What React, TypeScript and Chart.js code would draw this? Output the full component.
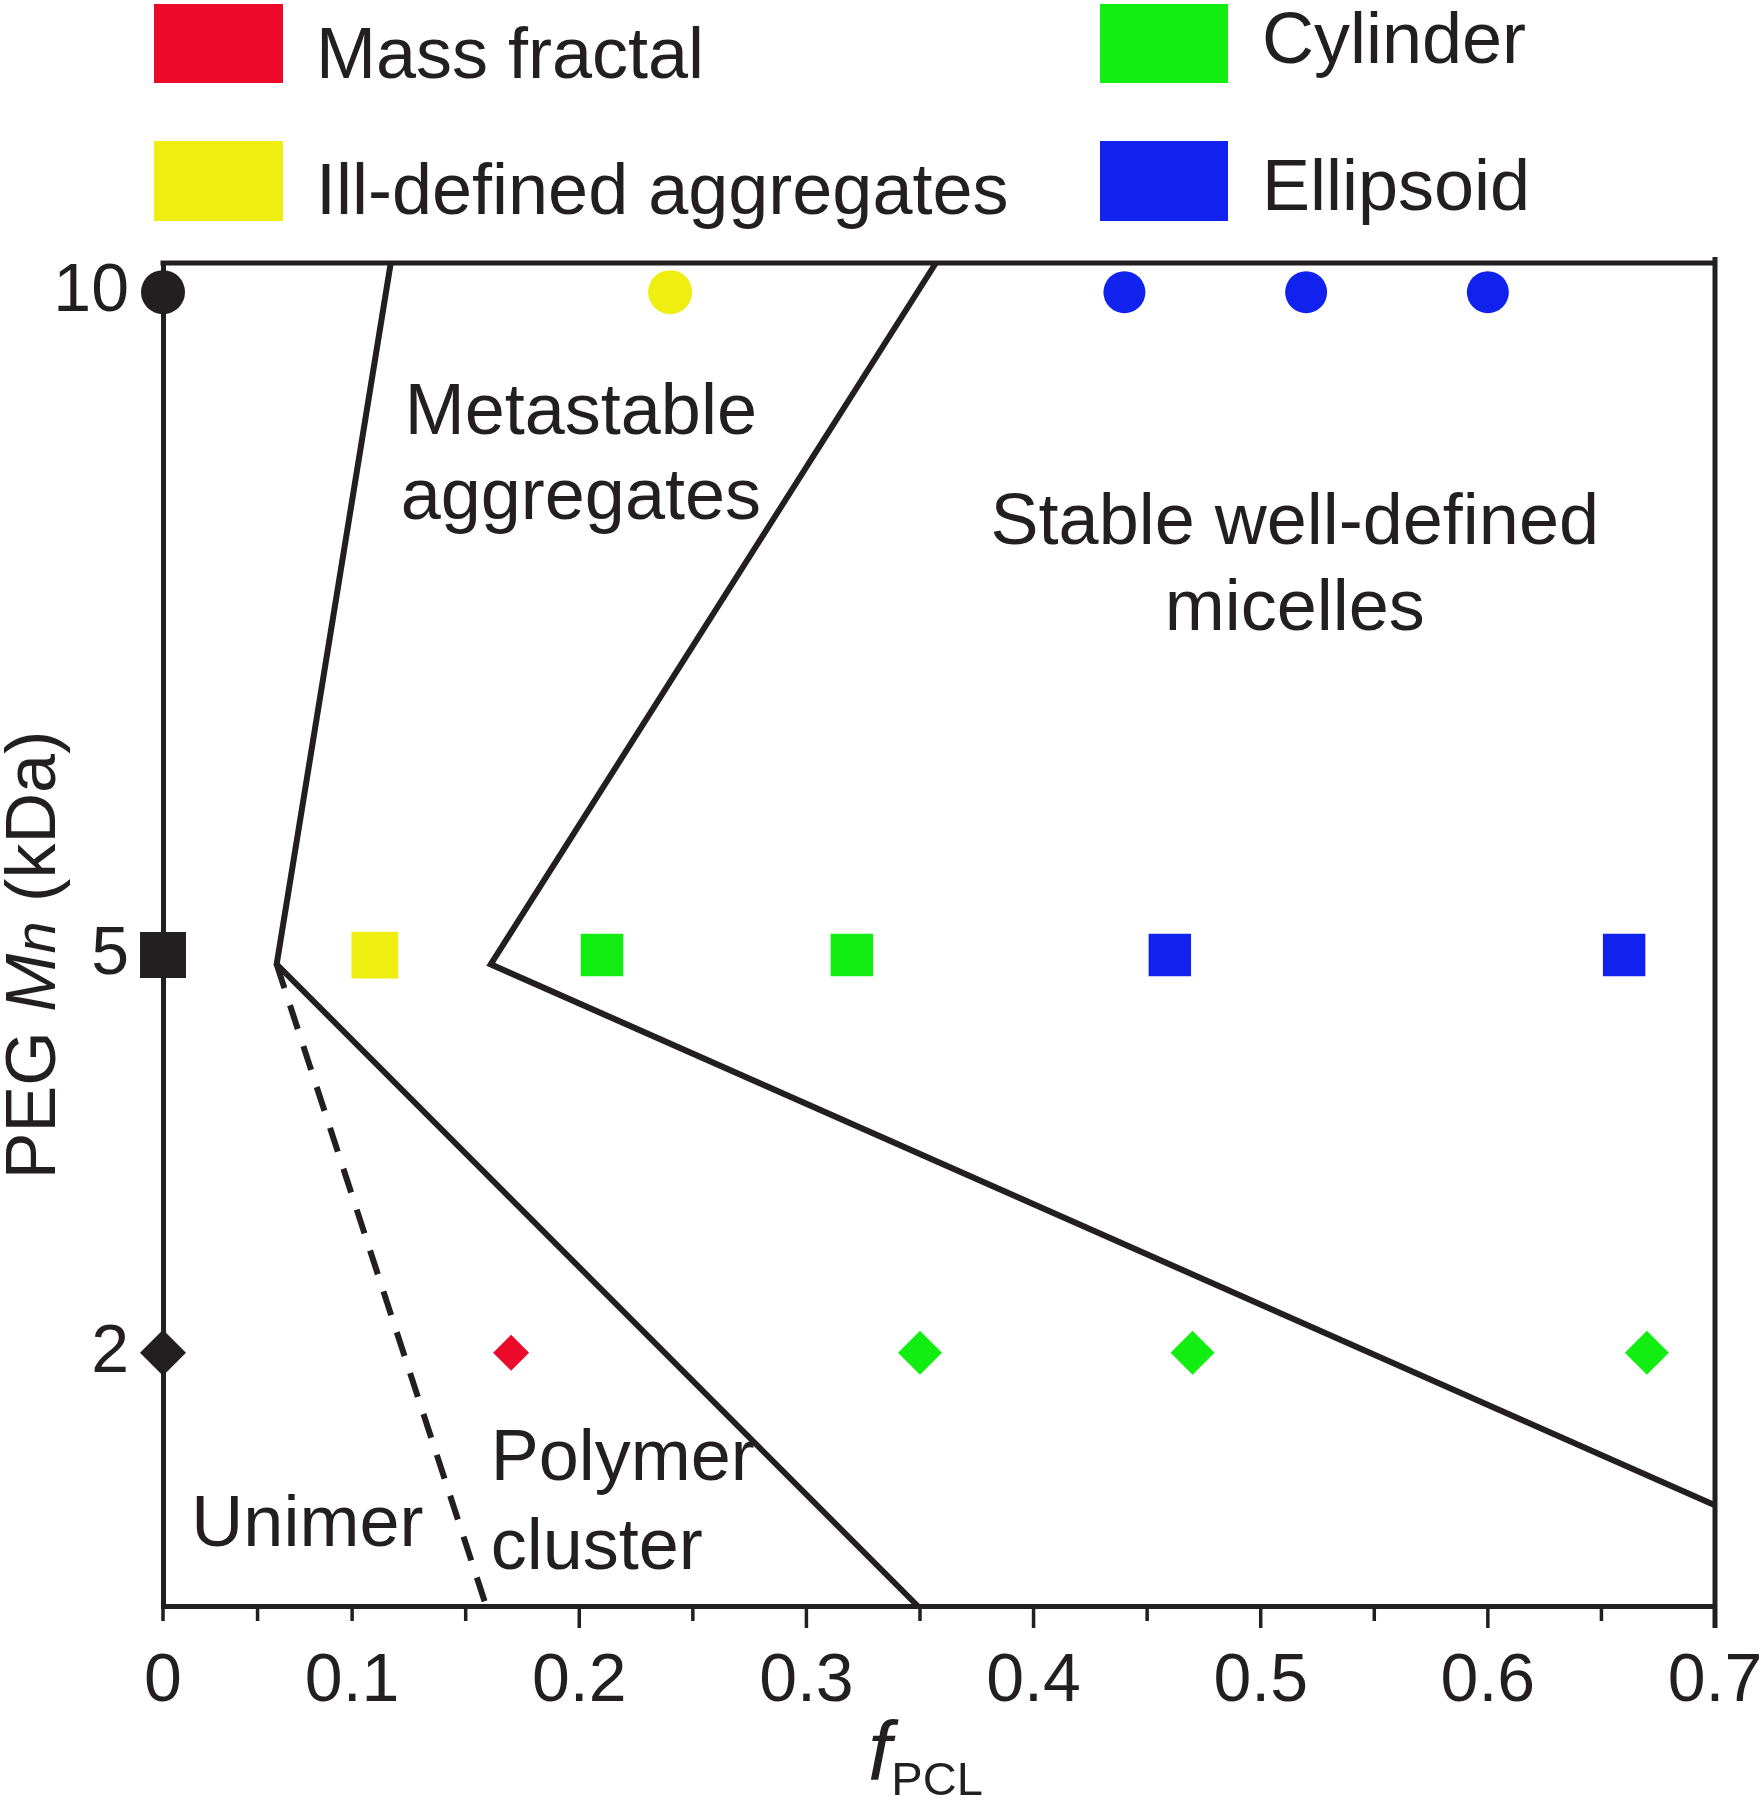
import React, { useEffect, useRef } from 'react';
import { Chart, registerables, LinearScale } from 'chart.js';

// ------------------------------------------------------------------
// Data
// ------------------------------------------------------------------
const X_MIN = 0;
const X_MAX = 0.7;
const Y_MIN = 0.09;
const Y_MAX = 10.22;

const X_TICKS = [0, 0.1, 0.2, 0.3, 0.4, 0.5, 0.6, 0.7];
const X_TICK_LABELS = ['0', '0.1', '0.2', '0.3', '0.4', '0.5', '0.6', '0.7'];
const X_LONG_TICKS = [0.2, 0.3, 0.4, 0.5, 0.6, 0.7];
const X_SHORT_TICKS = [0, 0.05, 0.1, 0.15, 0.25, 0.35, 0.45, 0.55, 0.65];
const Y_TICKS = [2, 5, 10];
const Y_TICK_LABELS = ['2', '5', '10'];

// PEG Mn (kDa) -> marker shape
const MN_SHAPE: Record<number, string> = { 10: 'circle', 5: 'rect', 2: 'rectRot' };

// Series: f_PCL (x) and PEG Mn (y)
const PEG_ONLY_X = [0, 0, 0];
const PEG_ONLY_Y = [10, 5, 2];
const MASS_FRACTAL_X = [0.17];
const MASS_FRACTAL_Y = [2];
const ILL_DEFINED_X = [0.24, 0.11];
const ILL_DEFINED_Y = [10, 5];
const CYLINDER_X = [0.21, 0.32, 0.35, 0.47, 0.67];
const CYLINDER_Y = [5, 5, 2, 2, 2];
const ELLIPSOID_X = [0.44, 0.52, 0.6, 0.46, 0.66];
const ELLIPSOID_Y = [10, 10, 10, 5, 5];

// Phase boundaries
const BOUNDARY_AGG_X = [0.117, 0.0601, 0.349];
const BOUNDARY_AGG_Y = [Y_MAX, 4.93, Y_MIN];
const BOUNDARY_STABLE_X = [0.357, 0.161, 0.7];
const BOUNDARY_STABLE_Y = [Y_MAX, 4.93, 0.85];
const BOUNDARY_UNIMER_X = [0.0601, 0.159];
const BOUNDARY_UNIMER_Y = [4.93, Y_MIN];

// Region annotations (data coordinates of text baselines)
const REGION_TEXT = [
  { lines: ['Metastable', 'aggregates'], x: 0.2007, y: [8.93, 8.29], align: 'center' },
  { lines: ['Stable well-defined', 'micelles'], x: 0.515, y: [8.1, 7.45], align: 'center' },
  { lines: ['Unimer'], x: 0.015, y: [0.544], align: 'left' },
  { lines: ['Polymer', 'cluster'], x: 0.161, y: [1.038, 0.37], align: 'left' },
];

// ------------------------------------------------------------------
// Styles
// ------------------------------------------------------------------
const FONT = '"Liberation Sans", Arial, Helvetica, sans-serif';
const INK = '#231f20';
const RED = '#ec0a2a';
const YELLOW = '#eeee10';
const GREEN = '#12ee12';
const BLUE = '#1122ee';

const LEGEND = [
  { label: 'Mass fractal', color: RED, box: [154, 4, 129, 79], tx: 316, ty: 78 },
  { label: 'Ill-defined aggregates', color: YELLOW, box: [154, 141, 129, 80], tx: 316, ty: 214 },
  { label: 'Cylinder', color: GREEN, box: [1100, 4, 128, 79], tx: 1262, ty: 63 },
  { label: 'Ellipsoid', color: BLUE, box: [1100, 141, 128, 80], tx: 1262, ty: 210 },
];

const MARKER_SIZE: Record<string, Record<string, number>> = {
  peg: { circle: 22, rect: 32.5, rectRot: 23 },
  massFractal: { rectRot: 18 },
  illDefined: { circle: 22, rect: 33 },
  cylinder: { rect: 30, rectRot: 22 },
  ellipsoid: { circle: 21, rect: 30 },
};

// The first 0.1 interval of the f_PCL axis is drawn narrower than the others
const X_BREAK = 0.1;
const X_BREAK_FACTOR = 189 / 227;

class CompressedStartScale extends LinearScale {
  static id = 'compressedStart';
  static defaults = LinearScale.defaults;
  warp(v: number) {
    return v <= X_BREAK ? v * X_BREAK_FACTOR : X_BREAK * X_BREAK_FACTOR + (v - X_BREAK);
  }
  unwarp(w: number) {
    const b = X_BREAK * X_BREAK_FACTOR;
    return w <= b ? w / X_BREAK_FACTOR : w - b + X_BREAK;
  }
  getPixelForValue(value: any) {
    if (value === null || value === undefined || isNaN(value)) return NaN;
    const lo = this.warp((this as any).min);
    const hi = this.warp((this as any).max);
    return (this as any).getPixelForDecimal((this.warp(value) - lo) / (hi - lo));
  }
  getValueForPixel(pixel: number) {
    const lo = this.warp((this as any).min);
    const hi = this.warp((this as any).max);
    return this.unwarp(lo + (this as any).getDecimalForPixel(pixel) * (hi - lo));
  }
}

Chart.register(...registerables, CompressedStartScale as any);

const zip = (xs: number[], ys: number[]) => xs.map((x, i) => ({ x, y: ys[i] }));

function markerDataset(label: string, key: string, xs: number[], ys: number[], color: string) {
  const pts = zip(xs, ys);
  return {
    label,
    data: pts,
    showLine: false,
    order: 1,
    clip: false as any,
    backgroundColor: color,
    borderColor: color,
    borderWidth: 0,
    pointBorderWidth: 0,
    pointStyle: pts.map((p) => MN_SHAPE[p.y]),
    pointRadius: pts.map((p) => MARKER_SIZE[key][MN_SHAPE[p.y]]),
    pointHoverRadius: pts.map((p) => MARKER_SIZE[key][MN_SHAPE[p.y]]),
  };
}

function boundaryDataset(label: string, xs: number[], ys: number[], dash: number[]) {
  return {
    label,
    data: zip(xs, ys),
    showLine: true,
    order: 2,
    clip: false as any,
    borderColor: INK,
    backgroundColor: INK,
    borderWidth: 6,
    borderDash: dash,
    borderJoinStyle: 'miter' as const,
    borderCapStyle: 'butt' as const,
    pointRadius: 0,
    pointHoverRadius: 0,
    fill: false,
  };
}

const FRAME_W = 5;
const LONG_TICK = 22;
const SHORT_TICK = 15;

const decorPlugin = {
  id: 'decor',
  beforeDatasetsDraw(chart: any) {
    const { ctx, chartArea: a, scales } = chart;
    const xs = scales.x;
    ctx.save();
    ctx.strokeStyle = INK;
    ctx.lineCap = 'butt';
    ctx.lineWidth = FRAME_W;
    ctx.beginPath();
    ctx.moveTo(a.left - FRAME_W / 2, a.top);
    ctx.lineTo(a.right, a.top);
    ctx.moveTo(a.right, a.top - 6);
    ctx.lineTo(a.right, a.bottom + LONG_TICK);
    ctx.stroke();
    ctx.lineWidth = 3.5;
    ctx.beginPath();
    X_LONG_TICKS.forEach((v) => {
      const px = xs.getPixelForValue(v);
      ctx.moveTo(px, a.bottom);
      ctx.lineTo(px, a.bottom + LONG_TICK);
    });
    X_SHORT_TICKS.forEach((v) => {
      const px = xs.getPixelForValue(v);
      ctx.moveTo(px, a.bottom);
      ctx.lineTo(px, a.bottom + SHORT_TICK);
    });
    ctx.stroke();
    ctx.restore();
  },
  afterDraw(chart: any) {
    const { ctx, scales } = chart;
    const xs = scales.x;
    const ys = scales.y;
    ctx.save();
    ctx.fillStyle = INK;
    ctx.textBaseline = 'alphabetic';

    // Legend
    ctx.font = `72px ${FONT}`;
    ctx.textAlign = 'left';
    LEGEND.forEach((item) => {
      ctx.fillStyle = item.color;
      const [bx, by, bw, bh] = item.box;
      ctx.fillRect(bx, by, bw, bh);
      ctx.fillStyle = INK;
      ctx.fillText(item.label, item.tx, item.ty);
    });

    // Region annotations
    ctx.font = `72px ${FONT}`;
    REGION_TEXT.forEach((r) => {
      ctx.textAlign = r.align;
      r.lines.forEach((line, i) => {
        ctx.fillText(line, xs.getPixelForValue(r.x), ys.getPixelForValue(r.y[i]));
      });
    });

    // X title: f_PCL
    ctx.textAlign = 'left';
    ctx.font = `italic 84px ${FONT}`;
    const fx = 868;
    ctx.fillText('f', fx, 1780);
    const fw = ctx.measureText('f').width;
    ctx.font = `47px ${FONT}`;
    ctx.fillText('PCL', fx + fw, 1795);

    // Y title: PEG Mn (kDa)
    const parts = [
      { t: 'PEG ', f: `70px ${FONT}` },
      { t: 'M', f: `italic 70px ${FONT}` },
      { t: 'n', f: `italic 58px ${FONT}` },
      { t: ' (kDa)', f: `70px ${FONT}` },
    ];
    let total = 0;
    const widths = parts.map((p) => {
      ctx.font = p.f;
      const w = ctx.measureText(p.t).width;
      total += w;
      return w;
    });
    ctx.translate(55, 955);
    ctx.rotate(-Math.PI / 2);
    let cx = -total / 2;
    parts.forEach((p, i) => {
      ctx.font = p.f;
      ctx.fillText(p.t, cx, 0);
      cx += widths[i];
    });
    ctx.restore();
  },
};

export default function App() {
  const ref = useRef<HTMLCanvasElement>(null);
  useEffect(() => {
    if (!ref.current) return;
    const chart = new Chart(ref.current, {
      type: 'scatter',
      data: {
        datasets: [
          boundaryDataset('Boundary aggregates', BOUNDARY_AGG_X, BOUNDARY_AGG_Y, []),
          boundaryDataset('Boundary stable', BOUNDARY_STABLE_X, BOUNDARY_STABLE_Y, []),
          boundaryDataset('Boundary unimer', BOUNDARY_UNIMER_X, BOUNDARY_UNIMER_Y, [25, 18]),
          markerDataset('PEG', 'peg', PEG_ONLY_X, PEG_ONLY_Y, INK),
          markerDataset('Mass fractal', 'massFractal', MASS_FRACTAL_X, MASS_FRACTAL_Y, RED),
          markerDataset('Ill-defined aggregates', 'illDefined', ILL_DEFINED_X, ILL_DEFINED_Y, YELLOW),
          markerDataset('Cylinder', 'cylinder', CYLINDER_X, CYLINDER_Y, GREEN),
          markerDataset('Ellipsoid', 'ellipsoid', ELLIPSOID_X, ELLIPSOID_Y, BLUE),
        ] as any,
      },
      options: {
        responsive: false,
        animation: false,
        events: [],
        layout: { padding: { top: 263, right: 49, left: 0, bottom: 0 } },
        plugins: { legend: { display: false }, tooltip: { enabled: false } },
        scales: {
          x: {
            type: 'compressedStart' as any,
            min: X_MIN,
            max: X_MAX,
            afterBuildTicks: (s: any) => {
              s.ticks = X_TICKS.map((v) => ({ value: v }));
            },
            afterFit: (s: any) => {
              s.height = 194;
              s.paddingLeft = 0;
              s.paddingRight = 0;
            },
            grid: { display: false },
            border: { display: true, color: INK, width: FRAME_W },
            ticks: {
              autoSkip: false,
              maxRotation: 0,
              padding: 27,
              color: INK,
              font: { family: FONT, size: 68 },
              callback: (_v: any, i: number) => X_TICK_LABELS[i],
            },
          },
          y: {
            type: 'linear',
            min: Y_MIN,
            max: Y_MAX,
            afterBuildTicks: (s: any) => {
              s.ticks = Y_TICKS.map((v) => ({ value: v }));
            },
            afterFit: (s: any) => {
              s.width = 163;
              s.paddingTop = 0;
              s.paddingBottom = 0;
            },
            grid: { display: false },
            border: { display: true, color: INK, width: FRAME_W },
            ticks: {
              autoSkip: false,
              padding: 26,
              color: INK,
              font: { family: FONT, size: 68 },
              callback: (_v: any, i: number) => Y_TICK_LABELS[i],
            },
          },
        },
      } as any,
      plugins: [decorPlugin],
    });
    return () => chart.destroy();
  }, []);
  return (
    <div style={{ position: 'absolute', left: 0, top: 0, width: 1764, height: 1800, background: '#fff' }}>
      <canvas ref={ref} width={1764} height={1800} style={{ display: 'block' }} />
    </div>
  );
}
